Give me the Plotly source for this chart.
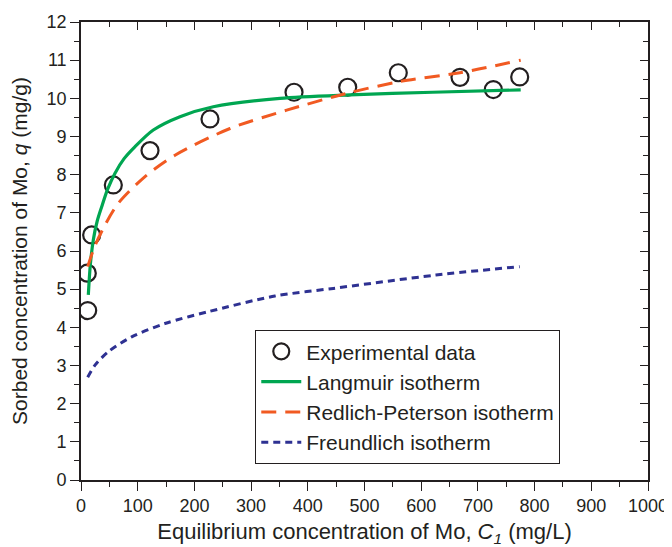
import plotly.graph_objects as go

# Experimental data
exp_c = [11.8, 11.1, 18.8, 57, 121.7, 227.5, 375.7, 470.4, 559.6, 668.4, 727.2, 773.7]
exp_q = [4.44, 5.42, 6.42, 7.73, 8.63, 9.46, 10.16, 10.29, 10.67, 10.55, 10.23, 10.56]

# Langmuir isotherm
lang_c = [12.9, 16.5, 21.7, 28.5, 36.5, 47, 60, 76, 95, 127.5, 174.6, 233.3, 351, 474, 620, 775.5]
lang_q = [4.85, 5.65, 6.29, 6.78, 7.16, 7.62, 8.04, 8.42, 8.73, 9.17, 9.52, 9.78, 10.0, 10.09, 10.16, 10.22]

# Redlich-Peterson isotherm
rp_c = [11.8, 25, 42.3, 65.8, 112.9, 165.8, 262.8, 362.8, 468.6, 562.6, 668.4, 775.5]
rp_q = [5.59, 6.15, 6.68, 7.25, 7.95, 8.51, 9.21, 9.69, 10.13, 10.44, 10.67, 11.0]

# Freundlich isotherm
fr_c = [11.8, 24.7, 48.2, 89.4, 148, 224.5, 342, 445, 626, 773.7]
fr_q = [2.69, 3.01, 3.36, 3.75, 4.10, 4.41, 4.82, 5.02, 5.37, 5.59]

x_ticks = list(range(0, 1001, 100))
y_ticks = list(range(0, 13, 1))

INK = "#231f20"
FONT = "Liberation Sans, Arial, sans-serif"

fig = go.Figure()
fig.add_trace(go.Scatter(x=exp_c, y=exp_q, mode="markers", name="Experimental data",
                         marker=dict(symbol="circle-open", size=17, color=INK,
                                     line=dict(width=2.2, color=INK))))
fig.add_trace(go.Scatter(x=lang_c, y=lang_q, mode="lines", name="Langmuir isotherm",
                         line=dict(color="#00a651", width=3.2, shape="spline", smoothing=0.8)))
fig.add_trace(go.Scatter(x=rp_c, y=rp_q, mode="lines", name="Redlich-Peterson isotherm",
                         line=dict(color="#f15a22", width=3, dash="15px,9px", shape="spline", smoothing=0.8)))
fig.add_trace(go.Scatter(x=fr_c, y=fr_q, mode="lines", name="Freundlich isotherm",
                         line=dict(color="#2e3192", width=3, dash="7px,5px", shape="spline", smoothing=0.8)))
# dummy trace for mirrored top/right axes
fig.add_trace(go.Scatter(x=[None], y=[None], xaxis="x2", yaxis="y2", showlegend=False,
                         hoverinfo="skip"))

common = dict(showgrid=False, zeroline=False, showline=True, linecolor=INK, linewidth=1.6,
              tickcolor=INK, tickwidth=1.4, automargin=False)

# the page body adds an 8px offset, so the figure is 8px smaller than the window
fig.update_layout(
    width=664, height=539,
    margin=dict(l=73, r=24, t=14, b=67),
    paper_bgcolor="white", plot_bgcolor="white",
    font=dict(family=FONT, size=18, color=INK),
    xaxis=dict(range=[0, 1000], tickvals=x_ticks, ticktext=[str(v) for v in x_ticks],
               ticks="outside", ticklen=9,
               minor=dict(dtick=50, ticks="outside", ticklen=5, tickcolor=INK, tickwidth=1.4),
               title=dict(text="Equilibrium concentration of Mo, <i>C</i><sub><i>1</i></sub> (mg/L)",
                          font=dict(size=22), standoff=13),
               tickfont=dict(size=18), **common),
    yaxis=dict(range=[0, 12], tickvals=y_ticks, ticktext=[str(v) for v in y_ticks],
               ticks="outside", ticklen=9,
               minor=dict(dtick=0.5, ticks="outside", ticklen=5, tickcolor=INK, tickwidth=1.4),
               title=dict(text="Sorbed concentration of Mo, <i>q</i> (mg/g)",
                          font=dict(size=21), standoff=14),
               tickfont=dict(size=18), **common),
    xaxis2=dict(range=[0, 1000], overlaying="x", side="top", anchor="y2",
                tickvals=x_ticks, showticklabels=False, ticks="inside", ticklen=8,
                minor=dict(dtick=50, ticks="inside", ticklen=5, tickcolor=INK, tickwidth=1.4),
                **common),
    yaxis2=dict(range=[0, 12], overlaying="y", side="right", anchor="x2",
                tickvals=y_ticks, showticklabels=False, ticks="inside", ticklen=8,
                minor=dict(dtick=0.5, ticks="inside", ticklen=5, tickcolor=INK, tickwidth=1.4),
                **common),
    legend=dict(x=0.307, y=0.3275, xanchor="left", yanchor="top",
                bgcolor="white", bordercolor=INK, borderwidth=1.2,
                font=dict(size=21, color=INK), tracegroupgap=0, itemwidth=40),
    showlegend=True,
)

fig.write_html("out.html")
